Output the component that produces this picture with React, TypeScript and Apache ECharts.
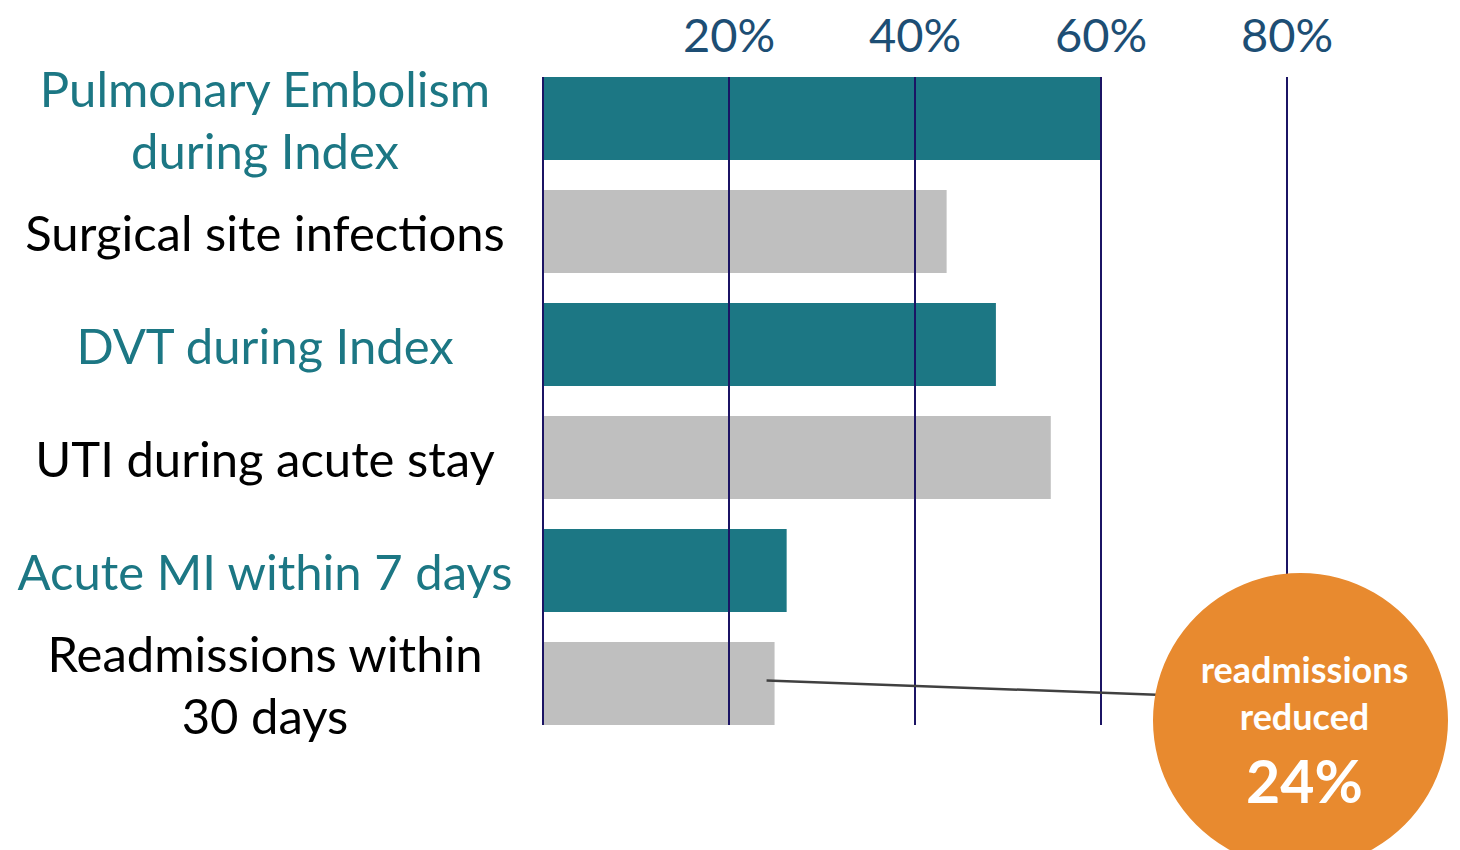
import React, { useEffect, useRef } from "react";
import * as echarts from "echarts";

const categories = [
  "Pulmonary Embolism\nduring Index",
  "Surgical site infections",
  "DVT during Index",
  "UTI during acute stay",
  "Acute MI within 7 days",
  "Readmissions within\n30 days",
];
const values = [60, 43.4, 48.7, 54.6, 26.2, 24.9];
const emphasized = [true, false, true, false, true, false];
const tickValues = [0, 20, 40, 60, 80];
const calloutLines = ["readmissions", "reduced", "24%"];

const TEAL = "#1c7784";
const GRAY = "#bfbfbf";
const NAVY = "#1b1464";
const AXIS_BLUE = "#1d4e74";
const ORANGE = "#e88a2f";
const FONT = "Lato, 'Open Sans', sans-serif";

export default function App() {
  const ref = useRef<HTMLDivElement>(null);
  useEffect(() => {
    if (!ref.current) return;
    const chart = echarts.init(ref.current, undefined, { renderer: "svg" });
    const xMin = tickValues[0];
    const xMax = tickValues[tickValues.length - 1];
    const interval = tickValues[1] - tickValues[0];
    chart.setOption({
      animation: false,
      textStyle: { fontFamily: FONT },
      grid: [
        { left: 543, width: 744, top: 77, height: 648 },
        { left: 543, width: 744, top: 62, height: 678 },
      ],
      xAxis: [
        {
          gridIndex: 0,
          type: "value",
          position: "top",
          min: xMin,
          max: xMax,
          interval,
          z: 5,
          axisLine: { show: false },
          axisTick: { show: false },
          splitLine: { show: true, lineStyle: { color: NAVY, width: 2 } },
          axisLabel: {
            show: true,
            margin: 20,
            fontSize: 47,
            fontFamily: FONT,
            color: AXIS_BLUE,
            formatter: (v: number) => (v === 0 ? "" : v + "%"),
          },
        },
        {
          gridIndex: 1,
          type: "value",
          min: xMin,
          max: xMax,
          interval,
          show: false,
          splitLine: { show: false },
        },
      ],
      yAxis: [
        {
          gridIndex: 0,
          type: "value",
          min: 0,
          max: 1,
          show: false,
          splitLine: { show: false },
        },
        {
          gridIndex: 1,
          type: "category",
          inverse: true,
          data: categories,
          axisLine: { show: false },
          axisTick: { show: false },
          splitLine: { show: false },
          axisLabel: {
            margin: 278,
            align: "center",
            fontSize: 49,
            lineHeight: 62,
            fontFamily: FONT,
            interval: 0,
            color: (_v: string, i: number) => (emphasized[i] ? TEAL : "#000000"),
          },
        },
      ],
      series: [
        {
          type: "bar",
          xAxisIndex: 1,
          yAxisIndex: 1,
          barWidth: 83,
          data: values.map((v, i) => ({
            value: v,
            itemStyle: { color: emphasized[i] ? TEAL : GRAY },
          })),
        },
      ],
    });

    const lastIdx = values.length - 1;
    const p = chart.convertToPixel({ xAxisIndex: 1, yAxisIndex: 1 }, [
      values[lastIdx],
      lastIdx,
    ]) as number[];
    const cx = 1300.5;
    const cy = 720.5;
    const r = 147.5;
    chart.setOption({
      graphic: [
        {
          type: "line",
          z: 50,
          shape: { x1: p[0] - 8, y1: p[1] - 3, x2: cx - r + 10, y2: 695 },
          style: { stroke: "#404040", lineWidth: 2.5 },
        },
        {
          type: "circle",
          z: 100,
          shape: { cx, cy, r },
          style: { fill: ORANGE },
        },
        {
          type: "text",
          z: 101,
          x: cx + 4,
          y: 669,
          style: {
            text: calloutLines[0],
            fill: "#ffffff",
            font: "bold 36px " + FONT,
            textAlign: "center",
            textVerticalAlign: "middle",
          },
        },
        {
          type: "text",
          z: 101,
          x: cx + 4,
          y: 716,
          style: {
            text: calloutLines[1],
            fill: "#ffffff",
            font: "bold 36px " + FONT,
            textAlign: "center",
            textVerticalAlign: "middle",
          },
        },
        {
          type: "text",
          z: 101,
          x: cx + 4,
          y: 780,
          style: {
            text: calloutLines[2],
            fill: "#ffffff",
            font: "bold 59px " + FONT,
            textAlign: "center",
            textVerticalAlign: "middle",
          },
        },
      ],
    });
    return () => chart.dispose();
  }, []);
  return (
    <div
      ref={ref}
      style={{ position: "fixed", left: 0, top: 0, width: 1460, height: 850, background: "#ffffff" }}
    />
  );
}
